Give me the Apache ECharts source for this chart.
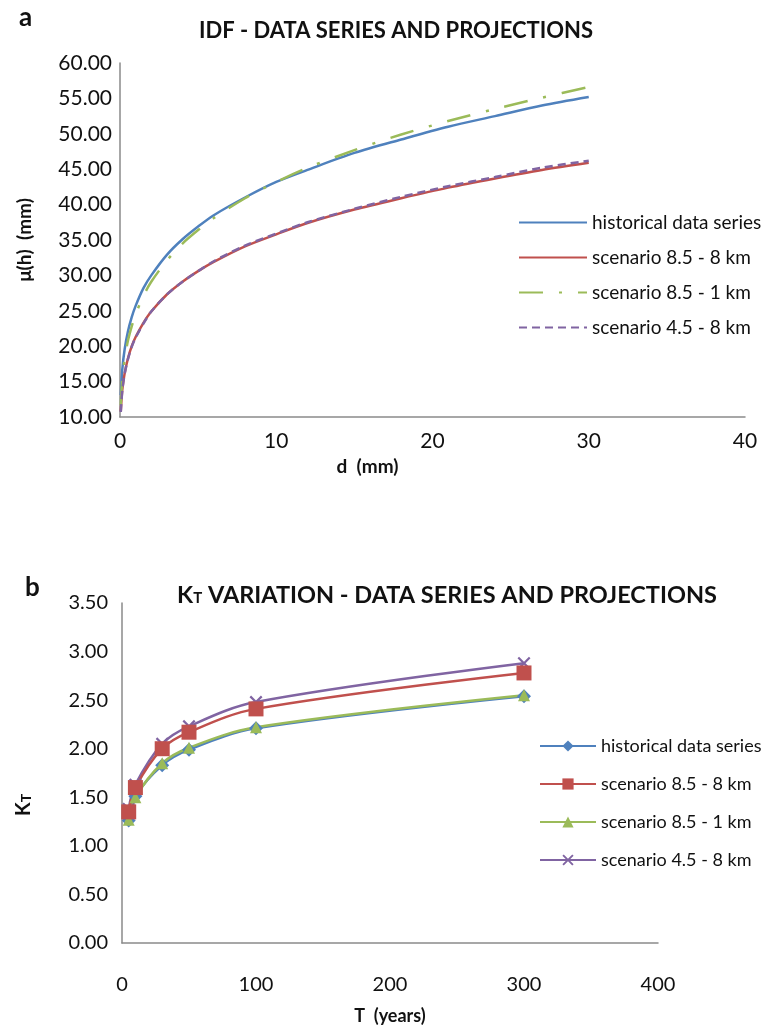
<!DOCTYPE html>
<html>
<head>
<meta charset="utf-8">
<script src="https://cdn.jsdelivr.net/npm/echarts@6/dist/echarts.min.js"></script>
<style>
html,body{margin:0;padding:0;background:#fff;}
#chart{width:768px;height:1026px;}
</style>
</head>
<body>
<div id="chart"></div>
<script>
// ---- Panel a: IDF curves ----
const durationsA = [0.05, 0.15, 0.3, 0.5, 0.75, 1, 1.5, 2, 3, 4, 5, 6, 8, 10, 12, 15, 18, 21, 24, 27, 30];
const histA   = [13.1, 16.8, 19.6, 22.0, 24.1, 25.7, 28.2, 30.0, 32.9, 35.1, 36.9, 38.5, 41.0, 43.2, 44.9, 47.3, 49.2, 51.0, 52.5, 54.0, 55.2];
const s85_8A  = [10.8, 13.9, 16.2, 18.2, 20.0, 21.3, 23.3, 24.9, 27.3, 29.1, 30.6, 31.9, 34.1, 35.8, 37.4, 39.3, 40.9, 42.4, 43.7, 44.9, 45.9];
const s85_1A  = [11.7, 15.4, 18.2, 20.7, 22.8, 24.5, 27.1, 29.1, 32.1, 34.5, 36.4, 38.1, 40.9, 43.2, 45.2, 47.7, 49.9, 51.8, 53.5, 55.1, 56.6];
const s45_8A  = [10.7, 13.8, 16.1, 18.1, 19.9, 21.2, 23.2, 24.9, 27.3, 29.1, 30.6, 32.0, 34.2, 35.9, 37.5, 39.4, 41.1, 42.6, 43.9, 45.2, 46.2];

// ---- Panel b: KT variation ----
const periodsB = [5, 10, 30, 50, 100, 300];
const histB   = [1.26, 1.51, 1.83, 1.99, 2.21, 2.54];
const s85_8B  = [1.35, 1.60, 2.00, 2.17, 2.41, 2.78];
const s85_1B  = [1.27, 1.50, 1.85, 2.01, 2.22, 2.55];
const s45_8B  = [1.38, 1.63, 2.05, 2.23, 2.48, 2.88];

const seriesLabels = ['historical data series', 'scenario 8.5 - 8 km', 'scenario 8.5 - 1 km', 'scenario 4.5 - 8 km'];

const C = {blue:'#4F81BD', red:'#C0504D', green:'#9BBB59', purple:'#8064A2'};
const FONT = 'Lato, "Open Sans", sans-serif';
const AXIS = '#8a8a8a';

function pairs(xs, ys){ return xs.map((x,i)=>[x, ys[i]]); }

const nameMap = {
  aH: seriesLabels[0], aR: seriesLabels[1], aG: seriesLabels[2], aP: seriesLabels[3],
  bH: seriesLabels[0], bR: seriesLabels[1], bG: seriesLabels[2], bP: seriesLabels[3]
};

const xPath = 'path://M0,1.2L1.2,0L5,3.8L8.8,0L10,1.2L6.2,5L10,8.8L8.8,10L5,6.2L1.2,10L0,8.8L3.8,5Z';

const chart = echarts.init(document.getElementById('chart'), null, {renderer:'canvas'});
chart.setOption({
  backgroundColor:'#fff',
  animation:false,
  textStyle:{fontFamily:FONT},
  title:[
    {text:'a', left:14, top:0, textStyle:{fontFamily:FONT, fontSize:26, fontWeight:'bold', color:'#111'}},
    {text:'IDF - DATA SERIES AND PROJECTIONS', left:391, textAlign:'center', top:15,
     textStyle:{fontFamily:FONT, fontSize:22, fontWeight:'bold', color:'#111'}},
    {text:'b', left:20, top:570, textStyle:{fontFamily:FONT, fontSize:26, fontWeight:'bold', color:'#111'}},
    {text:'{k|K}{t|T}{r| VARIATION - DATA SERIES AND PROJECTIONS}', left:442, textAlign:'center', top:578,
     textStyle:{fontFamily:FONT, fontSize:23.5, fontWeight:'bold', color:'#111',
       rich:{
         k:{fontFamily:FONT, fontSize:23.5, fontWeight:'bold', color:'#111'},
         t:{fontFamily:FONT, fontSize:15, fontWeight:'bold', color:'#111', padding:[6,0,0,0]},
         r:{fontFamily:FONT, fontSize:23.5, fontWeight:'bold', color:'#111'}
       }}}
  ],
  grid:[
    {left:120, top:63, width:625, height:354},
    {left:122, top:603, width:536, height:344}
  ],
  legend:[
    {data:['aH','aR','aG','aP'], orient:'vertical', left:513, top:208, itemWidth:68, itemHeight:12, itemGap:16,
     itemStyle:{opacity:0},
     formatter:n=>nameMap[n], textStyle:{fontFamily:FONT, fontSize:19, color:'#111'}, selectedMode:false},
    {data:['bH','bR','bG','bP'], orient:'vertical', left:534, top:732, itemWidth:56, itemHeight:14, itemGap:20,
     formatter:n=>nameMap[n], textStyle:{fontFamily:FONT, fontSize:18, color:'#111'}, selectedMode:false}
  ],
  xAxis:[
    {gridIndex:0, type:'value', min:0, max:40, interval:10,
     axisLine:{lineStyle:{color:AXIS, width:1.5}}, axisTick:{show:false}, splitLine:{show:false},
     axisLabel:{color:'#111', fontSize:21, margin:14},
     name:'d  (mm)', nameLocation:'middle', nameGap:40,
     nameTextStyle:{color:'#111', fontSize:19, fontWeight:'bold', padding:[0,130,0,0]}},
    {gridIndex:1, type:'value', min:0, max:400, interval:100,
     axisLine:{lineStyle:{color:AXIS, width:1.5}}, axisTick:{show:false}, splitLine:{show:false},
     axisLabel:{color:'#111', fontSize:20, margin:32},
     name:'T  (years)', nameLocation:'middle', nameGap:64,
     nameTextStyle:{color:'#111', fontSize:18, fontWeight:'bold'}}
  ],
  yAxis:[
    {gridIndex:0, type:'value', min:10, max:60, interval:5,
     axisLine:{show:true, lineStyle:{color:AXIS, width:1.5}}, axisTick:{show:false}, splitLine:{show:false},
     axisLabel:{color:'#111', fontSize:21, margin:8, formatter:v=>v.toFixed(2)},
     name:'μ(h)  (mm)', nameLocation:'middle', nameRotate:90, nameGap:86,
     nameTextStyle:{color:'#111', fontSize:19, fontWeight:'bold'}},
    {gridIndex:1, type:'value', min:0, max:3.5, interval:0.5,
     axisLine:{show:true, lineStyle:{color:AXIS, width:1.5}}, axisTick:{show:false}, splitLine:{show:false},
     axisLabel:{color:'#111', fontSize:20, margin:14, formatter:v=>v.toFixed(2)},
     name:'{k|K}{t|T}', nameLocation:'middle', nameRotate:90, nameGap:88,
     nameTextStyle:{color:'#111', fontSize:19, fontWeight:'bold', padding:[0,64,0,0],
       rich:{k:{fontSize:20, fontWeight:'bold', color:'#111'}, t:{fontSize:14, fontWeight:'bold', color:'#111', padding:[5,0,0,0]}}}}
  ],
  series:[
    {name:'aH', type:'line', xAxisIndex:0, yAxisIndex:0, data:pairs(durationsA, histA), smooth:0.3, symbol:'none',
     lineStyle:{color:C.blue, width:2.5}, itemStyle:{color:C.blue, opacity:0}},
    {name:'aR', type:'line', xAxisIndex:0, yAxisIndex:0, data:pairs(durationsA, s85_8A), smooth:0.3, symbol:'none',
     lineStyle:{color:C.red, width:2.5}, itemStyle:{color:C.red, opacity:0}},
    {name:'aG', type:'line', xAxisIndex:0, yAxisIndex:0, data:pairs(durationsA, s85_1A), smooth:0.3, symbol:'none',
     lineStyle:{color:C.green, width:2.5, type:[24,16,3,16]}, itemStyle:{color:C.green, opacity:0}},
    {name:'aP', type:'line', xAxisIndex:0, yAxisIndex:0, data:pairs(durationsA, s45_8A), smooth:0.3, symbol:'none',
     lineStyle:{color:C.purple, width:2.5, type:[8,5]}, itemStyle:{color:C.purple, opacity:0}},

    {name:'bP', type:'line', xAxisIndex:1, yAxisIndex:1, data:pairs(periodsB, s45_8B), smooth:0.35,
     symbol:xPath, symbolSize:13, lineStyle:{color:C.purple, width:2.5}, itemStyle:{color:C.purple}},
    {name:'bH', type:'line', xAxisIndex:1, yAxisIndex:1, data:pairs(periodsB, histB), smooth:0.35,
     symbol:'diamond', symbolSize:14, lineStyle:{color:C.blue, width:2.5}, itemStyle:{color:C.blue}},
    {name:'bG', type:'line', xAxisIndex:1, yAxisIndex:1, data:pairs(periodsB, s85_1B), smooth:0.35,
     symbol:'triangle', symbolSize:12, lineStyle:{color:C.green, width:2.5}, itemStyle:{color:C.green}},
    {name:'bR', type:'line', xAxisIndex:1, yAxisIndex:1, data:pairs(periodsB, s85_8B), smooth:0.35,
     symbol:'rect', symbolSize:15, lineStyle:{color:C.red, width:2.5}, itemStyle:{color:C.red}}
  ]
});
</script>
</body>
</html>
